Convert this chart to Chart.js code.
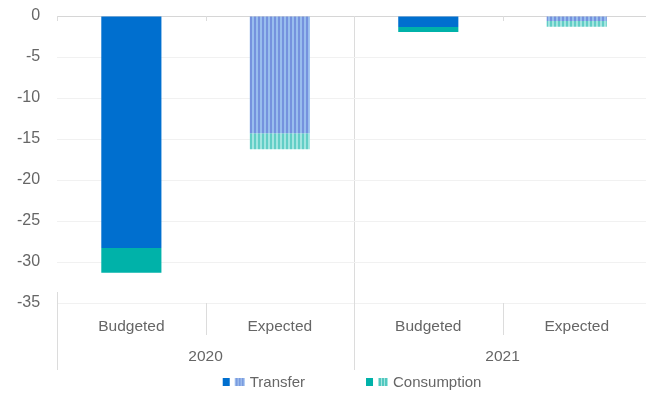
<!DOCTYPE html>
<html>
<head>
<meta charset="utf-8">
<script src="https://cdn.jsdelivr.net/npm/chart.js@4/dist/chart.umd.min.js"></script>
<style>
  html, body { margin: 0; padding: 0; background: #fff; overflow: hidden; }
  #wrap { width: 651px; height: 394px; }
</style>
</head>
<body>
<div id="wrap"><canvas id="grafico"></canvas></div>
<script>
const subLabels = ['Budgeted', 'Expected', 'Budgeted', 'Expected']
const years = ['2020', '2021']
const transfer = [-28.3, -14.3, -1.35, -0.6]
const consumption = [-3.0, -1.95, -0.6, -0.7]
const seriesNames = ['Transfer', 'Consumption']

const textColor = '#666'
const lineColor = '#dcdcdc'
const fontFamily = "'Liberation Sans', Arial, sans-serif"

const canvas = document.getElementById('grafico')
const ctx = canvas.getContext('2d')

// listras verticais para as barras "Expected"
function listras(claro, escuro) {
    const c = document.createElement('canvas')
    c.width = 4
    c.height = 4
    const g = c.getContext('2d')
    g.fillStyle = claro
    g.fillRect(0, 0, 4, 4)
    g.fillStyle = escuro
    g.fillRect(2, 0, 2, 4)
    return ctx.createPattern(c, 'repeat')
}

const azul = '#006fcf'
const verde = '#00b2a9'
const azulListrado = listras('#98bdee', '#7592de')
const verdeListrado = listras('#a3e5e0', '#62cec6')

// linhas separadoras abaixo da área do gráfico (categorias e anos)
const separadores = {
    id: 'separadores',
    afterDraw(chart) {
        const c = chart.ctx
        const area = chart.chartArea
        const x = chart.scales.x
        const zero = chart.scales.y.getPixelForValue(0)
        const meia = (x.getPixelForValue(1) - x.getPixelForValue(0)) / 2
        c.save()
        c.strokeStyle = lineColor
        c.lineWidth = 1
        const linha = (px, y0, y1) => {
            px = Math.round(px) + 0.5
            c.beginPath()
            c.moveTo(px, y0)
            c.lineTo(px, y1)
            c.stroke()
        }
        // entre Budgeted e Expected
        linha(x.getPixelForValue(0) + meia, area.bottom, area.bottom + 32)
        linha(x.getPixelForValue(2) + meia, area.bottom, area.bottom + 32)
        // entre os anos e na borda esquerda
        linha(x.getPixelForValue(1) + meia, area.bottom, area.bottom + 67)
        linha(x.getPixelForValue(0) - meia, area.bottom - 11, area.bottom + 67)
        // marquinhas na linha do zero
        for (let i = 0; i < subLabels.length; i++) {
            linha(x.getPixelForValue(i) - meia, zero, zero + 5)
        }
        c.restore()
    }
}

// legenda com dois quadradinhos (cheio + listrado) por item
const legendaDupla = {
    id: 'legendaDupla',
    afterDraw(chart) {
        const c = chart.ctx
        const area = chart.chartArea
        const itens = [
            { text: seriesNames[0], solid: azul, claro: '#98bdee', escuro: '#5b84d8' },
            { text: seriesNames[1], solid: verde, claro: '#a3e5e0', escuro: '#4fc8bf' }
        ]
        c.save()
        c.font = '15px ' + fontFamily
        c.textBaseline = 'middle'
        const gap = 61
        const larguras = itens.map(it => 27 + c.measureText(it.text).width)
        const total = larguras[0] + larguras[1] + gap
        let x = (area.left + area.right) / 2 - 2 - total / 2
        const y = 382
        itens.forEach((it, i) => {
            c.fillStyle = it.solid
            c.fillRect(x, y - 4, 7, 8)
            for (let k = 0; k < 10; k++) {
                c.fillStyle = (k % 3 === 0) ? it.claro : it.escuro
                c.fillRect(x + 12 + k, y - 4, 1, 8)
            }
            c.fillStyle = textColor
            c.fillText(it.text, x + 27, y + 1)
            x += larguras[i] + gap
        })
        c.restore()
    }
}

const chart = new Chart(ctx, {
    type: 'bar',
    data: {
        labels: subLabels,
        datasets: [{
                label: seriesNames[0],
                data: transfer,
                backgroundColor: [azul, azulListrado, azul, azulListrado],
                borderWidth: 0
            }, {
                label: seriesNames[1],
                data: consumption,
                backgroundColor: [verde, verdeListrado, verde, verdeListrado],
                borderWidth: 0
            }]
    },
    plugins: [separadores, legendaDupla],
    options: {
        responsive: true,
        maintainAspectRatio: false,
        animation: false,
        barPercentage: 0.405,
        categoryPercentage: 1,
        layout: {
            padding: { left: 13, right: 0, top: 16, bottom: 27.7 }
        },
        plugins: {
            legend: { display: false },
            tooltip: { enabled: false }
        },
        scales: {
            x: {
                stacked: true,
                border: { display: false },
                grid: { display: false, drawTicks: true, tickLength: 14.7 },
                ticks: {
                    color: textColor,
                    padding: 0,
                    maxRotation: 0,
                    autoSkip: false,
                    font: { family: fontFamily, size: 15.5 }
                }
            },
            x2: {
                type: 'category',
                labels: years,
                position: 'bottom',
                offset: true,
                border: { display: false },
                grid: {
                    offset: true,
                    drawTicks: true,
                    tickLength: 11.4,
                    tickColor: 'transparent',
                    color: c => c.index === 1 ? lineColor : 'transparent'
                },
                ticks: {
                    color: textColor,
                    padding: 0,
                    maxRotation: 0,
                    autoSkip: false,
                    font: { family: fontFamily, size: 15.5 }
                }
            },
            y: {
                stacked: true,
                min: -35,
                max: 0,
                border: { display: false },
                grid: {
                    drawTicks: true,
                    tickLength: 13,
                    tickColor: 'transparent',
                    color: c => c.tick && c.tick.value === 0 ? '#d6d6d6' : '#f1f1f1'
                },
                ticks: {
                    stepSize: 5,
                    padding: 4,
                    color: textColor,
                    font: { family: fontFamily, size: 16 }
                }
            }
        }
    }})
</script>
</body>
</html>
